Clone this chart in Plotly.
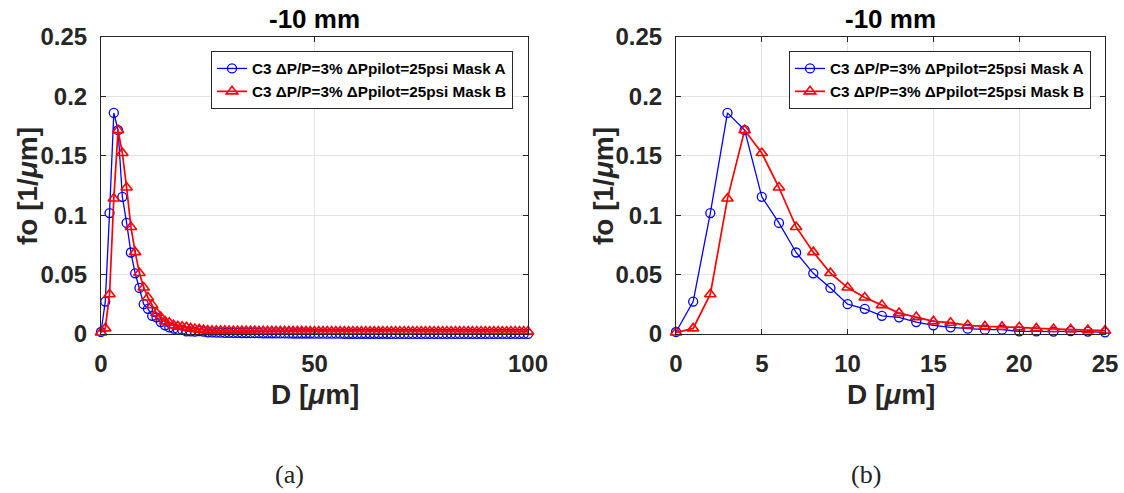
import plotly.graph_objects as go

# ---------------- data ----------------
D = list(range(0, 101))

fo_maskA = [
    0.0017, 0.0273, 0.1018, 0.1861, 0.1716, 0.1155, 0.0935, 0.0686, 0.0511, 0.0388,
    0.0251, 0.0212, 0.0153, 0.0140, 0.0100, 0.0073, 0.0056, 0.0045, 0.0036, 0.0036,
    0.0022, 0.0022, 0.0020, 0.0025, 0.0020, 0.0014, 0.0013, 0.0012, 0.0011, 0.0010,
    0.0010, 0.0009, 0.0009, 0.0008, 0.0008, 0.0007, 0.0007, 0.0007, 0.0006, 0.0006,
    0.0006, 0.0005, 0.0005, 0.0005, 0.0005, 0.0004, 0.0004, 0.0004, 0.0004, 0.0004,
    0.0003, 0.0003, 0.0003, 0.0003, 0.0003, 0.0003, 0.0003, 0.0002, 0.0002, 0.0002,
    0.0002, 0.0002, 0.0002, 0.0002, 0.0002, 0.0002, 0.0002, 0.0002, 0.0001, 0.0001,
    0.0001, 0.0001, 0.0001, 0.0001, 0.0001, 0.0001, 0.0001, 0.0001, 0.0001, 0.0001,
    0.0001, 0.0001, 0.0001, 0.0001, 0.0001, 0.0001, 0.0001, 0.0001, 0.0001, 0.0001,
    0.0001, 0.0001, 0.0001, 0.0001, 0.0001, 0.0001, 0.0001, 0.0001, 0.0001, 0.0001,
    0.0001,
]

fo_maskB = [
    0.0012, 0.0047, 0.0335, 0.1140, 0.1716, 0.1523, 0.1233, 0.0901, 0.0689, 0.0513,
    0.0391, 0.0307, 0.0243, 0.0176, 0.0142, 0.0106, 0.0095, 0.0073, 0.0064, 0.0061,
    0.0056, 0.0047, 0.0042, 0.0039, 0.0033, 0.0028, 0.0027, 0.0027, 0.0026, 0.0026,
    0.0025, 0.0025, 0.0025, 0.0024, 0.0024, 0.0024, 0.0024, 0.0023, 0.0023, 0.0023,
    0.0023, 0.0023, 0.0022, 0.0022, 0.0022, 0.0022, 0.0022, 0.0022, 0.0022, 0.0021,
    0.0021, 0.0021, 0.0021, 0.0021, 0.0021, 0.0021, 0.0021, 0.0021, 0.0021, 0.0021,
    0.0020, 0.0020, 0.0020, 0.0020, 0.0020, 0.0020, 0.0020, 0.0020, 0.0020, 0.0020,
    0.0020, 0.0020, 0.0020, 0.0020, 0.0020, 0.0020, 0.0020, 0.0020, 0.0020, 0.0020,
    0.0020, 0.0020, 0.0020, 0.0020, 0.0020, 0.0020, 0.0020, 0.0020, 0.0020, 0.0020,
    0.0020, 0.0020, 0.0020, 0.0020, 0.0020, 0.0020, 0.0020, 0.0020, 0.0020, 0.0020,
    0.0020,
]

name_A = "C3 ΔP/P=3% ΔPpilot=25psi Mask A"
name_B = "C3 ΔP/P=3% ΔPpilot=25psi Mask B"

y_ticks = [0, 0.05, 0.1, 0.15, 0.2, 0.25]
y_ticklabels = ["0", "0.05", "0.1", "0.15", "0.2", "0.25"]
x_ticks_a = [0, 50, 100]
x_ticks_b = [0, 5, 10, 15, 20, 25]
x_range_a = [0, 100]
x_range_b = [0, 25]
n_b = 26  # points shown in the zoomed panel (D = 0..25)

panel_title = "-10 mm"
x_label = "D [<i>μ</i>m]"
y_label = "fo [1/<i>μ</i>m]"
captions = ["(a)", "(b)"]

# ---------------- layout helpers ----------------
W, H = 1124, 493
def px(x):
    return x / W
def py(y):
    return 1 - y / H

AX_COL = "#262626"
GRID_COL = "#e3e3e3"
BLUE = "#0000ff"
RED = "#ff0000"
FONT = "Liberation Sans"

AX_A = (101, 528)
AX_B = (676, 1105)
AX_Y = (37, 334)

fig = go.Figure()

def add_pair(xs, ya, yb, xa, ya_ax, leg):
    fig.add_trace(go.Scatter(x=xs, y=ya, mode="lines+markers", name=name_A,
                             line=dict(color=BLUE, width=1.3),
                             marker=dict(symbol="circle-open", size=9, color=BLUE, line=dict(width=1.3)),
                             xaxis=xa, yaxis=ya_ax, legend=leg, cliponaxis=False))
    fig.add_trace(go.Scatter(x=xs, y=yb, mode="lines+markers", name=name_B,
                             line=dict(color=RED, width=1.7),
                             marker=dict(symbol="triangle-up-open", size=10, color=RED, line=dict(width=1.6)),
                             xaxis=xa, yaxis=ya_ax, legend=leg, cliponaxis=False))

add_pair(D, fo_maskA, fo_maskB, "x", "y", "legend")
add_pair(D[:n_b], fo_maskA[:n_b], fo_maskB[:n_b], "x2", "y2", "legend2")

tickfont = dict(family=FONT, size=24, color=AX_COL, weight="bold")
common_ax = dict(showline=True, linecolor=AX_COL, linewidth=1, mirror="ticks",
                 ticks="inside", ticklen=5, tickcolor=AX_COL, tickwidth=1,
                 showgrid=True, gridcolor=GRID_COL, gridwidth=1, zeroline=False,
                 tickfont=tickfont, automargin=False)

y_dom = [py(AX_Y[1]), py(AX_Y[0])]
leg_font = dict(family=FONT, size=15.3, color="black", weight="bold")
fig.update_layout(
    width=W, height=H, autosize=False,
    margin=dict(l=0, r=0, t=0, b=0, pad=0),
    paper_bgcolor="white", plot_bgcolor="white",
    xaxis=dict(domain=[px(AX_A[0]), px(AX_A[1])], range=x_range_a, tickvals=x_ticks_a,
               anchor="y", ticklabelstandoff=8, **common_ax),
    yaxis=dict(domain=y_dom, range=[0, 0.25], tickvals=y_ticks, ticktext=y_ticklabels,
               anchor="x", ticklabelstandoff=8, **common_ax),
    xaxis2=dict(domain=[px(AX_B[0]), px(AX_B[1])], range=x_range_b, tickvals=x_ticks_b,
                anchor="y2", ticklabelstandoff=8, **common_ax),
    yaxis2=dict(domain=y_dom, range=[0, 0.25], tickvals=y_ticks, ticktext=y_ticklabels,
                anchor="x2", ticklabelstandoff=8, **common_ax),
    showlegend=True,
    legend=dict(x=px(513), y=py(51), xanchor="right", yanchor="top",
                bgcolor="white", bordercolor=AX_COL, borderwidth=1,
                font=leg_font, itemwidth=30, tracegroupgap=0),
    legend2=dict(x=px(1091), y=py(51), xanchor="right", yanchor="top",
                 bgcolor="white", bordercolor=AX_COL, borderwidth=1,
                 font=leg_font, itemwidth=30, tracegroupgap=0),
)

annots = []
for ax in [AX_A, AX_B]:
    cx = (ax[0] + ax[1]) / 2
    annots.append(dict(x=px(cx), y=py(19), xref="paper", yref="paper", text=panel_title,
                       showarrow=False, xanchor="center", yanchor="middle",
                       font=dict(family=FONT, size=26, color="black", weight="bold")))
    annots.append(dict(x=px(cx), y=py(394), xref="paper", yref="paper", text=x_label,
                       showarrow=False, xanchor="center", yanchor="middle",
                       font=dict(family=FONT, size=28, color=AX_COL, weight="bold")))
for lx, cap_x, cap in [(27, 289, captions[0]), (603, 866, captions[1])]:
    annots.append(dict(x=px(lx), y=py(186), xref="paper", yref="paper", text=y_label,
                       showarrow=False, xanchor="center", yanchor="middle", textangle=-90,
                       font=dict(family=FONT, size=28, color=AX_COL, weight="bold")))
    annots.append(dict(x=px(cap_x), y=py(474), xref="paper", yref="paper", text=cap,
                       showarrow=False, xanchor="center", yanchor="middle",
                       font=dict(family="Liberation Serif", size=26, color="#222222")))
fig.update_layout(annotations=annots)

fig.write_html("out.html")
